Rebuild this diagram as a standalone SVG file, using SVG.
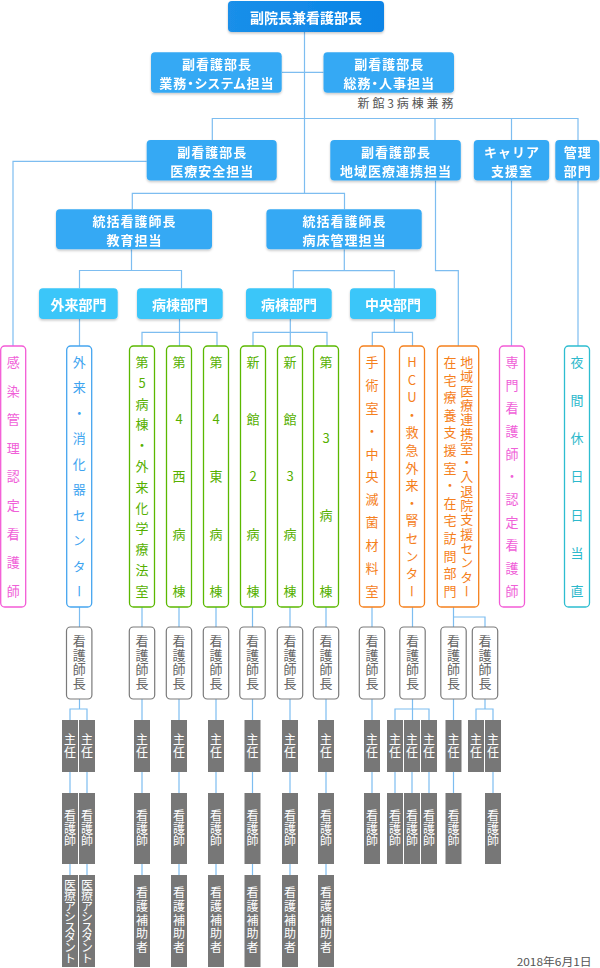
<svg xmlns="http://www.w3.org/2000/svg" width="600" height="968" viewBox="0 0 600 968">
<defs>
<filter id="sh" x="-10%" y="-20%" width="120%" height="150%">
<feDropShadow dx="0" dy="1.5" stdDeviation="1.2" flood-color="#000" flood-opacity="0.22"/>
</filter>
<linearGradient id="tg" x1="0" y1="0" x2="1" y2="0">
<stop offset="0" stop-color="#1a8fe9"/>
<stop offset="1" stop-color="#0a84e6"/>
</linearGradient>
</defs>
<style>
.ln{stroke:#7dbdf0;stroke-width:1.2;fill:none}
.top{fill:url(#tg)}
.bx{fill:#36a9f4}
.dp{fill:#3bc6f9}
.bt{font-family:"Noto Sans CJK JP",sans-serif;font-size:14px;font-weight:bold;fill:#fff;text-anchor:middle;dominant-baseline:central}
.b2{font-size:13px;letter-spacing:1px}
.pa{font-feature-settings:"palt"}
.vb{fill:#fff;stroke-width:1.3}
.vt{font-family:"Noto Sans CJK JP",sans-serif;font-size:13px;writing-mode:vertical-rl;text-orientation:upright;text-anchor:middle}
.pk{stroke:#f35bd6}.pkt{fill:#f060d8}
.bl{stroke:#45a5ef}.blt{fill:#3ea4f0}
.gr{stroke:#5bb800}.grt{fill:#56b000}
.or{stroke:#f5801c}.ort{fill:#f5801c}
.tl{stroke:#2dbdd0}.tlt{fill:#2db9cc}
.hb{fill:#fff;stroke:#7a7a7a;stroke-width:1.2}
.ht{font-family:"Noto Sans CJK JP",sans-serif;font-size:13px;fill:#666;writing-mode:vertical-rl;text-anchor:middle;letter-spacing:1px}
.gb{fill:#777}
.gt{font-family:"Noto Sans CJK JP",sans-serif;font-size:12px;fill:#fff;writing-mode:vertical-rl;text-anchor:middle}
.note{font-family:"Noto Sans CJK JP",sans-serif;fill:#555}
</style>

<g id="connectors">
<path class="ln" d="M304.5 32V193.3M282 72.3H323.5M212.3 140V118.5H578V140M435 118.5V140M511.5 118.5V140"/>
<path class="ln" d="M146.7 161.3H13V346"/>
<path class="ln" d="M132.3 209.3V193.3H344.5V209.3"/>
<path class="ln" d="M131.5 249.3V270.5M79.5 288.3V270.5H181.5V288.3M79.5 319V346"/>
<path class="ln" d="M179.5 319V346M142 346V332.3H217V346"/>
<path class="ln" d="M344.3 249.3V270.7M293.3 288.3V270.7H394.3V288.3"/>
<path class="ln" d="M290.3 319V346M253 346V332.3H327V346"/>
<path class="ln" d="M394.3 319V332.3M372.3 346V332.3H412.5V346"/>
<path class="ln" d="M435.5 180.5V270.7H458.3V346"/>
<path class="ln" d="M511.5 180.5V346M578 180.5V346"/>
<path class="ln" d="M79.5 607V627M79.5 699V709M70 720V709H87V720M70 772V793M87 772V793M70 864V875M87 864V875"/>
<path class="ln" d="M142 607V627M142 699V720M142 772V793M142 864V875"/>
<path class="ln" d="M179 607V627M179 699V720M179 772V793M179 864V875"/>
<path class="ln" d="M216 607V627M216 699V720M216 772V793M216 864V875"/>
<path class="ln" d="M252.5 607V627M252.5 699V720M252.5 772V793M252.5 864V875"/>
<path class="ln" d="M290 607V627M290 699V720M290 772V793M290 864V875"/>
<path class="ln" d="M326 607V627M326 699V720M326 772V793M326 864V875"/>
<path class="ln" d="M372 607V627M372 699V720M372 772V793"/>
<path class="ln" d="M412.5 607V627M412.5 699V720M395 720V709H429V720M395 772V793M412 772V793M429 772V793"/>
<path class="ln" d="M453.5 607V627M453.5 617H485V627M453.5 699V720M453.5 772V793"/>
<path class="ln" d="M485 699V709M476 720V709H493V720M493 772V793"/>
</g>

<g id="n-top" filter="url(#sh)"><rect class="top" x="228" y="1" width="156" height="31" rx="4"/><text class="bt" x="306" y="16.5">副院長兼看護部長</text></g>
<g id="n-gyomu" filter="url(#sh)"><rect class="bx" x="151" y="52.3" width="130.7" height="40.4" rx="4"/><text class="bt b2"><tspan x="216.9" y="63">副看護部長</tspan><tspan class="pa" x="216.9" y="82">業務・システム担当</tspan></text></g>
<g id="n-somu" filter="url(#sh)"><rect class="bx" x="323.5" y="52.3" width="130.5" height="40.4" rx="4"/><text class="bt b2"><tspan x="389.2" y="63">副看護部長</tspan><tspan class="pa" x="389.2" y="82">総務・人事担当</tspan></text></g>
<text class="note" x="357.5" y="107.5" font-size="12" textLength="96" lengthAdjust="spacing">新館3病棟兼務</text>
<g id="n-iryo" filter="url(#sh)"><rect class="bx" x="146.7" y="140" width="130" height="40.5" rx="4"/><text class="bt b2"><tspan x="212.2" y="151">副看護部長</tspan><tspan x="212.2" y="170">医療安全担当</tspan></text></g>
<g id="n-chiiki" filter="url(#sh)"><rect class="bx" x="330.3" y="140" width="130.5" height="40.5" rx="4"/><text class="bt b2"><tspan x="396" y="151">副看護部長</tspan><tspan x="396" y="170">地域医療連携担当</tspan></text></g>
<g id="n-career" filter="url(#sh)"><rect class="bx" x="473.8" y="140" width="75.4" height="40.5" rx="4"/><text class="bt b2"><tspan x="512" y="151">キャリア</tspan><tspan x="512" y="170">支援室</tspan></text></g>
<g id="n-kanri" filter="url(#sh)"><rect class="bx" x="555.3" y="140" width="44" height="40.5" rx="4"/><text class="bt b2"><tspan x="577.8" y="151">管理</tspan><tspan x="577.8" y="170">部門</tspan></text></g>
<g id="n-kyoiku" filter="url(#sh)"><rect class="bx" x="56" y="209.3" width="156" height="40" rx="4"/><text class="bt b2"><tspan x="134.5" y="220">統括看護師長</tspan><tspan x="134.5" y="239">教育担当</tspan></text></g>
<g id="n-byosho" filter="url(#sh)"><rect class="bx" x="266.4" y="209.3" width="155.3" height="40" rx="4"/><text class="bt b2"><tspan x="344.5" y="220">統括看護師長</tspan><tspan x="344.5" y="239">病床管理担当</tspan></text></g>
<g id="d-gairai" filter="url(#sh)"><rect class="dp" x="39" y="288.3" width="78.7" height="30.7" rx="4"/><text class="bt" x="78.4" y="303.7">外来部門</text></g>
<g id="d-byoto1" filter="url(#sh)"><rect class="dp" x="137" y="288.3" width="85.7" height="30.7" rx="4"/><text class="bt" x="179.9" y="303.7">病棟部門</text></g>
<g id="d-byoto2" filter="url(#sh)"><rect class="dp" x="246" y="288.3" width="85.7" height="30.7" rx="4"/><text class="bt" x="288.9" y="303.7">病棟部門</text></g>
<g id="d-chuo" filter="url(#sh)"><rect class="dp" x="350" y="288.3" width="86" height="30.7" rx="4"/><text class="bt" x="393" y="303.7">中央部門</text></g>

<g id="v-kansen"><rect class="vb pk" x="0.7" y="346" width="25" height="261" rx="4"/><text class="vt pkt" x="13.2" y="362 390.6 419.3 447.9 476.5 505.1 533.8 562.4 591">感染管理認定看護師</text></g>
<g id="v-gairai"><rect class="vb bl" x="66.7" y="346" width="25" height="261" rx="4"/><text class="vt blt" x="79.2" y="362 387.4 412.9 438.3 463.8 489.2 514.7 540.1 565.6 591">外来・消化器センター</text></g>
<g id="v-dai5"><rect class="vb gr" x="129.5" y="346" width="25" height="261" rx="4"/><text class="vt grt" x="142" y="362 382.8 403.6 424.5 445.3 466.1 486.9 507.7 528.5 549.4 570.2 591">第5病棟・外来化学療法室</text></g>
<g id="v-4west"><rect class="vb gr" x="166.5" y="346" width="25" height="261" rx="4"/><text class="vt grt" x="179" y="362 419.3 476.5 533.8 591">第4西病棟</text></g>
<g id="v-4east"><rect class="vb gr" x="203.5" y="346" width="25" height="261" rx="4"/><text class="vt grt" x="216" y="362 419.3 476.5 533.8 591">第4東病棟</text></g>
<g id="v-shin2"><rect class="vb gr" x="240.5" y="346" width="25" height="261" rx="4"/><text class="vt grt" x="253" y="362 419.3 476.5 533.8 591">新館2病棟</text></g>
<g id="v-shin3"><rect class="vb gr" x="277.5" y="346" width="25" height="261" rx="4"/><text class="vt grt" x="290" y="362 419.3 476.5 533.8 591">新館3病棟</text></g>
<g id="v-dai3"><rect class="vb gr" x="313.5" y="346" width="25" height="261" rx="4"/><text class="vt grt" x="326" y="362 438.3 514.7 591">第3病棟</text></g>
<g id="v-shujutsu"><rect class="vb or" x="359.5" y="346" width="25" height="261" rx="4"/><text class="vt ort" x="372" y="362 384.9 407.8 430.7 453.6 476.5 499.4 522.3 545.2 568.1 591">手術室・中央滅菌材料室</text></g>
<g id="v-hcu"><rect class="vb or" x="399.5" y="346" width="25" height="261" rx="4"/><text class="vt ort" x="412" y="362 379.6 397.2 414.8 432.5 450.1 467.7 485.3 502.9 520.5 538.2 555.8 573.4 591">HCU・救急外来・腎センター</text></g>
<g id="v-chiiki"><rect class="vb or" x="437.3" y="346" width="41.4" height="261" rx="4"/><text class="vt ort" x="466.7" y="362 376.3 390.6 404.9 419.3 433.6 447.9 462.2 476.5 490.8 505.1 519.4 533.8 548.1 562.4 576.7 591">地域医療連携室・入退院支援センター</text><text class="vt ort" x="450" y="362 379.6 397.2 414.8 432.5 450.1 467.7 485.3 502.9 520.5 538.2 555.8 573.4 591">在宅療養支援室・在宅訪問部門</text></g>
<g id="v-senmon"><rect class="vb pk" x="499.5" y="346" width="25" height="261" rx="4"/><text class="vt pkt" x="512" y="362 384.9 407.8 430.7 453.6 476.5 499.4 522.3 545.2 568.1 591">専門看護師・認定看護師</text></g>
<g id="v-yakan"><rect class="vb tl" x="564.5" y="346" width="25" height="261" rx="4"/><text class="vt tlt" x="577" y="362 400.2 438.3 476.5 514.7 552.8 591">夜間休日日当直</text></g>

<g id="h-c1"><rect class="hb" x="66.5" y="627" width="25.4" height="72" rx="4"/><text class="ht" x="79.2" y="663">看護師長</text></g>
<g id="h-c2"><rect class="hb" x="129.3" y="627" width="25.4" height="72" rx="4"/><text class="ht" x="142" y="663">看護師長</text></g>
<g id="h-c3"><rect class="hb" x="166.3" y="627" width="25.4" height="72" rx="4"/><text class="ht" x="179" y="663">看護師長</text></g>
<g id="h-c4"><rect class="hb" x="203.3" y="627" width="25.4" height="72" rx="4"/><text class="ht" x="216" y="663">看護師長</text></g>
<g id="h-c5"><rect class="hb" x="239.8" y="627" width="25.4" height="72" rx="4"/><text class="ht" x="252.5" y="663">看護師長</text></g>
<g id="h-c6"><rect class="hb" x="277.3" y="627" width="25.4" height="72" rx="4"/><text class="ht" x="290" y="663">看護師長</text></g>
<g id="h-c7"><rect class="hb" x="313.3" y="627" width="25.4" height="72" rx="4"/><text class="ht" x="326" y="663">看護師長</text></g>
<g id="h-c8"><rect class="hb" x="359.3" y="627" width="25.4" height="72" rx="4"/><text class="ht" x="372" y="663">看護師長</text></g>
<g id="h-c9"><rect class="hb" x="399.8" y="627" width="25.4" height="72" rx="4"/><text class="ht" x="412.5" y="663">看護師長</text></g>
<g id="h-c10"><rect class="hb" x="440.8" y="627" width="25.4" height="72" rx="4"/><text class="ht" x="453.5" y="663">看護師長</text></g>
<g id="h-c11"><rect class="hb" x="472.3" y="627" width="25.4" height="72" rx="4"/><text class="ht" x="485" y="663">看護師長</text></g>

<g id="shunin" style="letter-spacing:0.5px">
<rect class="gb" x="62" y="720" width="16" height="52"/><text class="gt" x="70" y="746">主任</text>
<rect class="gb" x="79" y="720" width="16" height="52"/><text class="gt" x="87" y="746">主任</text>
<rect class="gb" x="134" y="720" width="16" height="52"/><text class="gt" x="142" y="746">主任</text>
<rect class="gb" x="171" y="720" width="16" height="52"/><text class="gt" x="179" y="746">主任</text>
<rect class="gb" x="208" y="720" width="16" height="52"/><text class="gt" x="216" y="746">主任</text>
<rect class="gb" x="244.5" y="720" width="16" height="52"/><text class="gt" x="252.5" y="746">主任</text>
<rect class="gb" x="282" y="720" width="16" height="52"/><text class="gt" x="290" y="746">主任</text>
<rect class="gb" x="318" y="720" width="16" height="52"/><text class="gt" x="326" y="746">主任</text>
<rect class="gb" x="364" y="720" width="16" height="52"/><text class="gt" x="372" y="746">主任</text>
<rect class="gb" x="387" y="720" width="16" height="52"/><text class="gt" x="395" y="746">主任</text>
<rect class="gb" x="404" y="720" width="16" height="52"/><text class="gt" x="412" y="746">主任</text>
<rect class="gb" x="421" y="720" width="16" height="52"/><text class="gt" x="429" y="746">主任</text>
<rect class="gb" x="445.5" y="720" width="16" height="52"/><text class="gt" x="453.5" y="746">主任</text>
<rect class="gb" x="468" y="720" width="16" height="52"/><text class="gt" x="476" y="746">主任</text>
<rect class="gb" x="485" y="720" width="16" height="52"/><text class="gt" x="493" y="746">主任</text>
</g>

<g id="kangoshi" style="letter-spacing:0.8px">
<rect class="gb" x="62" y="793" width="16" height="71"/><text class="gt" x="70" y="828.5">看護師</text>
<rect class="gb" x="79" y="793" width="16" height="71"/><text class="gt" x="87" y="828.5">看護師</text>
<rect class="gb" x="134" y="793" width="16" height="71"/><text class="gt" x="142" y="828.5">看護師</text>
<rect class="gb" x="171" y="793" width="16" height="71"/><text class="gt" x="179" y="828.5">看護師</text>
<rect class="gb" x="208" y="793" width="16" height="71"/><text class="gt" x="216" y="828.5">看護師</text>
<rect class="gb" x="244.5" y="793" width="16" height="71"/><text class="gt" x="252.5" y="828.5">看護師</text>
<rect class="gb" x="282" y="793" width="16" height="71"/><text class="gt" x="290" y="828.5">看護師</text>
<rect class="gb" x="318" y="793" width="16" height="71"/><text class="gt" x="326" y="828.5">看護師</text>
<rect class="gb" x="364" y="793" width="16" height="71"/><text class="gt" x="372" y="828.5">看護師</text>
<rect class="gb" x="387" y="793" width="16" height="71"/><text class="gt" x="395" y="828.5">看護師</text>
<rect class="gb" x="404" y="793" width="16" height="71"/><text class="gt" x="412" y="828.5">看護師</text>
<rect class="gb" x="421" y="793" width="16" height="71"/><text class="gt" x="429" y="828.5">看護師</text>
<rect class="gb" x="445.5" y="793" width="16" height="71"/><text class="gt" x="453.5" y="828.5">看護師</text>
<rect class="gb" x="485" y="793" width="16" height="71"/><text class="gt" x="493" y="828.5">看護師</text>
</g>

<g id="hojo">
<rect class="gb" x="62" y="875" width="16" height="92"/><text class="gt" x="70" y="921" style="letter-spacing:-1.6px">医療アシスタント</text>
<rect class="gb" x="79" y="875" width="16" height="92"/><text class="gt" x="87" y="921" style="letter-spacing:-1.6px">医療アシスタント</text>
<rect class="gb" x="134" y="875" width="16" height="92"/><text class="gt" x="142" y="921" style="letter-spacing:1.7px">看護補助者</text>
<rect class="gb" x="171" y="875" width="16" height="92"/><text class="gt" x="179" y="921" style="letter-spacing:1.7px">看護補助者</text>
<rect class="gb" x="208" y="875" width="16" height="92"/><text class="gt" x="216" y="921" style="letter-spacing:1.7px">看護補助者</text>
<rect class="gb" x="244.5" y="875" width="16" height="92"/><text class="gt" x="252.5" y="921" style="letter-spacing:1.7px">看護補助者</text>
<rect class="gb" x="282" y="875" width="16" height="92"/><text class="gt" x="290" y="921" style="letter-spacing:1.7px">看護補助者</text>
<rect class="gb" x="318" y="875" width="16" height="92"/><text class="gt" x="326" y="921" style="letter-spacing:1.7px">看護補助者</text>
</g>

<text class="note" x="516.7" y="966" font-size="11" textLength="75" lengthAdjust="spacingAndGlyphs">2018年6月1日</text>
</svg>
